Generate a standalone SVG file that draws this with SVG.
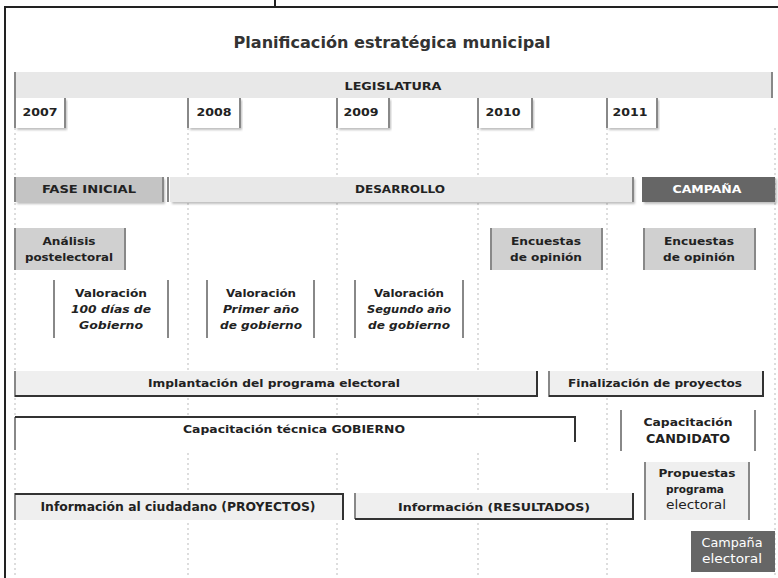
<svg xmlns="http://www.w3.org/2000/svg" width="778" height="578" viewBox="0 0 778 578">
<defs>
<style>
text{font-family:"DejaVu Sans Condensed","DejaVu Sans","Liberation Sans",sans-serif;fill:#222;text-anchor:middle}
.b{font-weight:bold;font-size:11px}
.i{font-style:italic;font-weight:bold;font-size:11px}
.w{fill:#fff}
.title{font-size:16px;font-weight:600;fill:#333}
.edge{stroke:#888;stroke-width:2;fill:none}
.dark{stroke:#333;stroke-width:2;fill:none}
.dot{stroke:#bbb;stroke-width:1;stroke-dasharray:2 3;fill:none}
.lt{fill:#e8e8e8}
.md{fill:#c4c4c4}
.md2{fill:#d0d0d0}
.dk{fill:#666}
</style>
<filter id="sh" x="-5%" y="-20%" width="110%" height="150%">
<feDropShadow dx="2" dy="2" stdDeviation="1.2" flood-color="#000" flood-opacity="0.25"/>
</filter>
</defs>
<rect width="778" height="578" fill="#fff"/>
<!-- frame -->
<path d="M5,578 V7 H778 M275,0 V7" stroke="#222" stroke-width="2" fill="none"/>
<text class="title" x="392" y="48" textLength="317" lengthAdjust="spacingAndGlyphs">Planificación estratégica municipal</text>

<g id="grid">
<path class="dot" d="M15,128 V578 M188,128 V578 M337,128 V578 M478,128 V578 M607,128 V578 M775,128 V578"/>
</g>

<g id="legislatura">
<rect class="lt" x="15" y="72" width="757" height="26"/>
<path class="edge" d="M15,72 V98 M772,72 V98"/>
<text class="b" x="393" y="90" textLength="97" lengthAdjust="spacingAndGlyphs">LEGISLATURA</text>
</g>

<g id="y2007"><rect x="15" y="98" width="50" height="30" fill="#fff" filter="url(#sh)"/><path class="edge" d="M15,98 V128 M65,98 V128"/><text class="b" x="40" y="116" textLength="35" lengthAdjust="spacingAndGlyphs">2007</text></g>
<g id="y2008"><rect x="188" y="98" width="52" height="30" fill="#fff" filter="url(#sh)"/><path class="edge" d="M188,98 V128 M240,98 V128"/><text class="b" x="214" y="116" textLength="35" lengthAdjust="spacingAndGlyphs">2008</text></g>
<g id="y2009"><rect x="337" y="98" width="52" height="30" fill="#fff" filter="url(#sh)"/><path class="edge" d="M337,98 V128 M389,98 V128"/><text class="b" x="361" y="116" textLength="35" lengthAdjust="spacingAndGlyphs">2009</text></g>
<g id="y2010"><rect x="478" y="98" width="54" height="30" fill="#fff" filter="url(#sh)"/><path class="edge" d="M478,98 V128 M532,98 V128"/><text class="b" x="503" y="116" textLength="35" lengthAdjust="spacingAndGlyphs">2010</text></g>
<g id="y2011"><rect x="607" y="98" width="50" height="30" fill="#fff" filter="url(#sh)"/><path class="edge" d="M607,98 V128 M657,98 V128"/><text class="b" x="630" y="116" textLength="35" lengthAdjust="spacingAndGlyphs">2011</text></g>

<g id="fase-inicial">
<rect class="md" x="15" y="177" width="148" height="25" filter="url(#sh)"/>
<path class="edge" d="M15,177 V202 M163,177 V202 M168,177 V202"/>
<text class="b" x="89" y="193" textLength="94" lengthAdjust="spacingAndGlyphs">FASE INICIAL</text>
</g>
<g id="desarrollo">
<rect class="lt" x="170" y="177" width="463" height="25" filter="url(#sh)"/>
<path class="edge" d="M633,177 V202"/>
<text class="b" x="400" y="193" textLength="90" lengthAdjust="spacingAndGlyphs">DESARROLLO</text>
</g>
<g id="campana">
<rect class="dk" x="642" y="177" width="133" height="25" filter="url(#sh)"/>
<text class="b w" x="707" y="193" textLength="69" lengthAdjust="spacingAndGlyphs">CAMPAÑA</text>
</g>

<g id="analisis">
<rect class="md2" x="15" y="228" width="110" height="42"/>
<path class="edge" d="M15,228 V270 M125,228 V270"/>
<text class="b" x="69" y="245" textLength="53" lengthAdjust="spacingAndGlyphs">Análisis</text>
<text class="b" x="69" y="261" textLength="88" lengthAdjust="spacingAndGlyphs">postelectoral</text>
</g>

<g id="valoracion-100">
<path class="edge" d="M54,280 V338 M168,280 V338"/>
<text class="b" x="111" y="297" textLength="72" lengthAdjust="spacingAndGlyphs">Valoración</text>
<text class="i" x="111" y="313" textLength="80" lengthAdjust="spacingAndGlyphs">100 días de</text>
<text class="i" x="111" y="329" textLength="64" lengthAdjust="spacingAndGlyphs">Gobierno</text>
</g>
<g id="valoracion-1">
<path class="edge" d="M207,280 V338 M314,280 V338"/>
<text class="b" x="261" y="297" textLength="70" lengthAdjust="spacingAndGlyphs">Valoración</text>
<text class="i" x="261" y="313" textLength="76" lengthAdjust="spacingAndGlyphs">Primer año</text>
<text class="i" x="261" y="329" textLength="82" lengthAdjust="spacingAndGlyphs">de gobierno</text>
</g>
<g id="valoracion-2">
<path class="edge" d="M355,280 V338 M463,280 V338"/>
<text class="b" x="409" y="297" textLength="70" lengthAdjust="spacingAndGlyphs">Valoración</text>
<text class="i" x="409" y="313" textLength="84" lengthAdjust="spacingAndGlyphs">Segundo año</text>
<text class="i" x="409" y="329" textLength="82" lengthAdjust="spacingAndGlyphs">de gobierno</text>
</g>

<g id="encuestas-1">
<rect class="md2" x="491" y="228" width="111" height="42"/>
<path class="edge" d="M491,228 V270 M602,228 V270"/>
<text class="b" x="546" y="245" textLength="70" lengthAdjust="spacingAndGlyphs">Encuestas</text>
<text class="b" x="546" y="261" textLength="72" lengthAdjust="spacingAndGlyphs">de opinión</text>
</g>
<g id="encuestas-2">
<rect class="md2" x="644" y="228" width="111" height="42"/>
<path class="edge" d="M644,228 V270 M755,228 V270"/>
<text class="b" x="699" y="245" textLength="70" lengthAdjust="spacingAndGlyphs">Encuestas</text>
<text class="b" x="699" y="261" textLength="72" lengthAdjust="spacingAndGlyphs">de opinión</text>
</g>

<g id="implantacion">
<rect fill="#efefef" x="15" y="371" width="522" height="26"/>
<path class="edge" d="M15,371 V397"/>
<path class="dark" d="M15,396 H537 V371"/>
<text class="b" x="274" y="387" textLength="252" lengthAdjust="spacingAndGlyphs">Implantación del programa electoral</text>
</g>
<g id="finalizacion">
<rect fill="#efefef" x="549" y="371" width="214" height="26"/>
<path class="edge" d="M549,371 V397"/>
<path class="dark" d="M549,396 H763 V371"/>
<text class="b" x="655" y="387" textLength="174" lengthAdjust="spacingAndGlyphs">Finalización de proyectos</text>
</g>

<g id="capacitacion-gobierno">
<rect fill="#fff" x="15" y="417" width="560" height="33"/>
<path class="edge" d="M15,417 V450"/>
<path class="dark" d="M15,417 H575 V442"/>
<text class="b" x="294" y="433" textLength="222" lengthAdjust="spacingAndGlyphs">Capacitación técnica GOBIERNO</text>
</g>
<g id="capacitacion-candidato">
<path class="edge" d="M621,410 V451 M755,410 V451"/>
<text class="b" x="688" y="426" textLength="89" lengthAdjust="spacingAndGlyphs">Capacitación</text>
<text x="688" y="443" font-size="12" font-weight="600" textLength="84" lengthAdjust="spacingAndGlyphs">CANDIDATO</text>
</g>
<g id="propuestas">
<rect fill="#efefef" x="645" y="462" width="104" height="58"/>
<path class="edge" d="M645,462 V520 M749,462 V520"/>
<text class="b" x="697" y="477" textLength="77" lengthAdjust="spacingAndGlyphs">Propuestas</text>
<text class="b" x="695" y="493" textLength="58" lengthAdjust="spacingAndGlyphs">programa</text>
<text x="696" y="509" font-size="12" textLength="60" lengthAdjust="spacingAndGlyphs">electoral</text>
</g>

<g id="info-proyectos">
<rect fill="#efefef" x="15" y="493" width="328" height="27"/>
<path class="edge" d="M15,493 V520"/>
<path class="dark" d="M15,494 H343 V520"/>
<text x="178" y="511" font-size="13" font-weight="600" textLength="275" lengthAdjust="spacingAndGlyphs">Información al ciudadano (PROYECTOS)</text>
</g>
<g id="info-resultados">
<rect fill="#efefef" x="355" y="493" width="278" height="26"/>
<path class="edge" d="M355,493 V519"/>
<path class="dark" d="M355,519 H633 V493"/>
<text class="b" x="494" y="511" textLength="192" lengthAdjust="spacingAndGlyphs">Información (RESULTADOS)</text>
</g>
<g id="campana-electoral">
<rect class="dk" x="691" y="531" width="84" height="41"/>
<text class="w" x="732" y="547" font-size="12" textLength="61" lengthAdjust="spacingAndGlyphs">Campaña</text>
<text class="w" x="732" y="563" font-size="12" textLength="60" lengthAdjust="spacingAndGlyphs">electoral</text>
</g>
</svg>
